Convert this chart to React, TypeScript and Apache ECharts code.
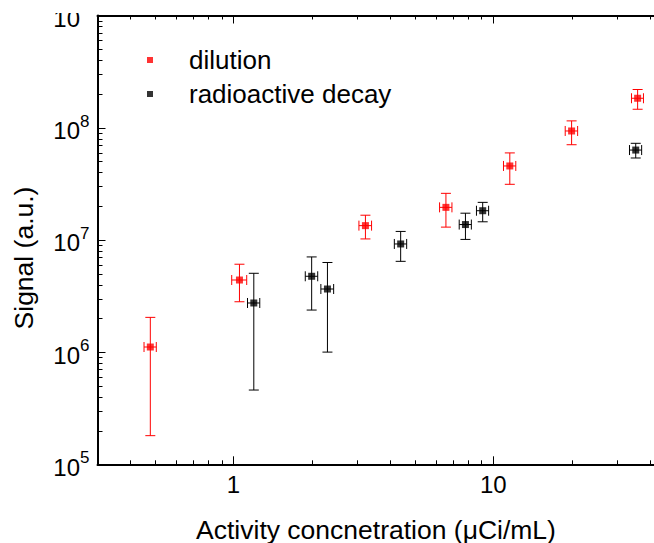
import React, { useEffect, useRef } from 'react';
import * as echarts from 'echarts';

const FONT = '"Liberation Sans", Arial, Helvetica, sans-serif';

// Axis extents
const X_MIN = 0.3;
const X_MAX = 41.5;
const Y_MIN = 1e5;
const Y_MAX = 1e9;

// Dilution series: activity (uCi/mL), signal (a.u.) and uncertainties
const dilutionX = [0.479, 1.055, 3.22, 6.57, 11.57, 20.0, 35.9];
const dilutionXErr = [0.026, 0.07, 0.18, 0.36, 0.63, 1.1, 1.9];
const dilutionY = [1.11e6, 4.39e6, 1.34e7, 1.95e7, 4.56e7, 9.35e7, 1.83e8];
const dilutionYLow = [1.8e5, 2.81e6, 1.02e7, 1.3e7, 3.13e7, 7.05e7, 1.46e8];
const dilutionYHigh = [2.04e6, 6.07e6, 1.66e7, 2.6e7, 5.96e7, 1.15e8, 2.19e8];

// Radioactive decay series
const decayX = [1.198, 2.0, 2.3, 4.4, 7.81, 9.1, 35.3];
const decayXErr = [0.065, 0.11, 0.13, 0.24, 0.42, 0.49, 1.9];
const decayY = [2.74e6, 4.74e6, 3.65e6, 9.2e6, 1.37e7, 1.82e7, 6.32e7];
const decayYLow = [4.59e5, 2.37e6, 1.0e6, 6.44e6, 1.01e7, 1.45e7, 5.37e7];
const decayYHigh = [5.04e6, 7.05e6, 6.29e6, 1.19e7, 1.73e7, 2.16e7, 7.26e7];

// Tick positions
const xMajorTicks = [1, 10];
const xMinorTicks = [0.4, 0.5, 0.6, 0.7, 0.8, 0.9, 2, 3, 4, 5, 6, 7, 8, 9, 20, 30, 40];
const yMajorTicks = [1e5, 1e6, 1e7, 1e8, 1e9];
const yDecades = [1e5, 1e6, 1e7, 1e8];
const yMinorMantissas = [2, 3, 4, 5, 6, 7, 8, 9];
const yMinorTicks: number[] = [];
yDecades.forEach((d) => yMinorMantissas.forEach((m) => yMinorTicks.push(m * d)));

const MAJOR_LEN = 8;
const X_MINOR_LEN = 4;
const Y_MINOR_LEN = 5;

const RED = '#ff0000';
const BLACK = '#000000';

function errorData(xs: number[], xe: number[], ys: number[], yl: number[], yh: number[]) {
  return xs.map((x, i) => [x, ys[i], x - xe[i], x + xe[i], yl[i], yh[i]]);
}

function seg(x1: number, y1: number, x2: number, y2: number, color: string) {
  return {
    type: 'line',
    shape: { x1, y1, x2, y2 },
    style: { stroke: color, lineWidth: 1, fill: 'none' },
  };
}

function errorRenderer(color: string) {
  return (params: any, api: any) => {
    const x = api.value(0);
    const y = api.value(1);
    const p = api.coord([x, y]);
    const xl = api.coord([api.value(2), y]);
    const xh = api.coord([api.value(3), y]);
    const yl = api.coord([x, api.value(4)]);
    const yh = api.coord([x, api.value(5)]);
    const cap = 5;
    return {
      type: 'group',
      children: [
        seg(p[0], yl[1], p[0], yh[1], color),
        seg(p[0] - cap, yl[1], p[0] + cap, yl[1], color),
        seg(p[0] - cap, yh[1], p[0] + cap, yh[1], color),
        seg(xl[0], p[1], xh[0], p[1], color),
        seg(xl[0], p[1] - cap, xl[0], p[1] + cap, color),
        seg(xh[0], p[1] - cap, xh[0], p[1] + cap, color),
      ],
    };
  };
}

// All inward ticks of the frame (bottom, top, left), placed with the axes' own scales
function tickRenderer(params: any, api: any) {
  const children: any[] = [];
  const xTick = (v: number, len: number) => {
    const b = api.coord([v, Y_MIN]);
    const t = api.coord([v, Y_MAX]);
    const xb = Math.round(b[0]) + 0.5;
    children.push(seg(xb, b[1], xb, b[1] - len, BLACK));
    children.push(seg(xb, t[1], xb, t[1] + len, BLACK));
  };
  const yTick = (v: number, len: number) => {
    const p = api.coord([X_MIN, v]);
    const yb = Math.round(p[1]) + 0.5;
    children.push(seg(p[0], yb, p[0] + len, yb, BLACK));
  };
  xMajorTicks.forEach((v) => xTick(v, MAJOR_LEN));
  xMinorTicks.forEach((v) => xTick(v, X_MINOR_LEN));
  yMajorTicks.forEach((v) => yTick(v, MAJOR_LEN));
  yMinorTicks.forEach((v) => yTick(v, Y_MINOR_LEN));
  return { type: 'group', children };
}

const isPow10 = (v: number) => Math.abs(Math.log10(v) - Math.round(Math.log10(v))) < 1e-6;

const axisLineOn = { show: true, onZero: false, lineStyle: { color: '#000', width: 2 } };

export default function App() {
  const ref = useRef<HTMLDivElement>(null);

  useEffect(() => {
    if (!ref.current) return;
    const chart = echarts.init(ref.current, undefined, { renderer: 'svg' });

    const xBase = { type: 'log', logBase: 10, min: X_MIN, max: X_MAX, splitLine: { show: false }, axisTick: { show: false } };
    const yBase = { type: 'log', logBase: 10, min: Y_MIN, max: Y_MAX, splitLine: { show: false }, axisTick: { show: false } };

    const option: any = {
      animation: false,
      backgroundColor: '#ffffff',
      grid: { left: 97.5, right: 0, top: 15.5, bottom: 78.7, containLabel: false, outerBoundsMode: 'none' },
      xAxis: [
        {
          ...xBase,
          position: 'bottom',
          axisLine: axisLineOn,
          axisLabel: {
            show: true,
            margin: 8,
            fontSize: 24,
            fontFamily: FONT,
            color: '#000',
            hideOverlap: false,
            formatter: (v: number) => (isPow10(v) ? String(Math.round(v)) : ''),
          },
        },
        { ...xBase, position: 'top', axisLine: axisLineOn, axisLabel: { show: false } },
      ],
      yAxis: [
        {
          ...yBase,
          position: 'left',
          axisLine: axisLineOn,
          axisLabel: {
            show: true,
            margin: 8,
            color: '#000',
            fontFamily: FONT,
            hideOverlap: false,
            formatter: (v: number) => {
              if (!isPow10(v)) return '';
              return '{b|10}{s|' + Math.round(Math.log10(v)) + '}';
            },
            rich: {
              b: { fontSize: 24, fontFamily: FONT, color: '#000', lineHeight: 30, verticalAlign: 'bottom' },
              s: { fontSize: 17, fontFamily: FONT, color: '#000', lineHeight: 30, verticalAlign: 'top', padding: [0, 0, 4, 0] },
            },
          },
        },
      ],
      legend: {
        orient: 'vertical',
        left: 147,
        top: 47,
        padding: 0,
        itemWidth: 6,
        itemHeight: 6,
        itemGap: 8,
        icon: 'rect',
        data: ['dilution', 'radioactive decay'],
        textStyle: { fontSize: 26, fontFamily: FONT, color: '#000', lineHeight: 26, padding: [0, 0, 0, 31] },
      },
      graphic: [
        {
          type: 'text',
          x: 376,
          y: 529.5,
          style: {
            text: 'Activity concnetration (μCi/mL)',
            fontSize: 26.5,
            fontFamily: FONT,
            fill: '#000',
            align: 'center',
            verticalAlign: 'middle',
          },
        },
        {
          type: 'text',
          x: 23.5,
          y: 258,
          rotation: Math.PI / 2,
          style: {
            text: 'Signal (a.u.)',
            fontSize: 26.5,
            fontFamily: FONT,
            fill: '#000',
            align: 'center',
            verticalAlign: 'middle',
          },
        },
        {
          type: 'rect',
          z: 100,
          shape: { x: 0, y: 0, width: 95, height: 13 },
          style: { fill: '#ffffff' },
        },
        {
          type: 'rect',
          z: 100,
          shape: { x: 80, y: 0, width: 15, height: 17 },
          style: { fill: '#ffffff' },
        },
      ],
      series: [
        {
          name: 'frame-ticks',
          type: 'custom',
          z: 4,
          data: [[X_MIN * 2, Y_MIN * 2]],
          encode: { x: 0, y: 1 },
          renderItem: tickRenderer,
        },
        {
          name: 'dilution-err',
          type: 'custom',
          z: 2,
          data: errorData(dilutionX, dilutionXErr, dilutionY, dilutionYLow, dilutionYHigh),
          encode: { x: 0, y: 1 },
          renderItem: errorRenderer(RED),
        },
        {
          name: 'decay-err',
          type: 'custom',
          z: 2,
          data: errorData(decayX, decayXErr, decayY, decayYLow, decayYHigh),
          encode: { x: 0, y: 1 },
          renderItem: errorRenderer(BLACK),
        },
        {
          name: 'dilution',
          type: 'scatter',
          symbol: 'rect',
          symbolSize: 7,
          z: 3,
          itemStyle: { color: RED },
          data: dilutionX.map((x, i) => [x, dilutionY[i]]),
        },
        {
          name: 'radioactive decay',
          type: 'scatter',
          symbol: 'rect',
          symbolSize: 7,
          z: 3,
          itemStyle: { color: BLACK },
          data: decayX.map((x, i) => [x, decayY[i]]),
        },
      ],
    };

    chart.setOption(option);
    return () => chart.dispose();
  }, []);

  return (
    <div
      ref={ref}
      style={{ position: 'fixed', left: 0, top: 0, width: 654, height: 543, background: '#fff' }}
    />
  );
}
